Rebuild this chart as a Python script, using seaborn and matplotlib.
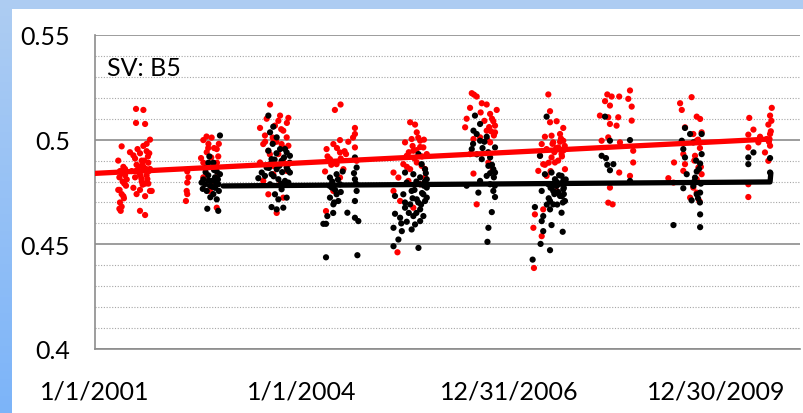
import numpy as np
import pandas as pd
import matplotlib
matplotlib.use("Agg")
import matplotlib.pyplot as plt
import seaborn as sns
from matplotlib.patches import Rectangle
from matplotlib.colors import LinearSegmentedColormap
from matplotlib.ticker import MultipleLocator

# ---------------- data (x = days since 1/1/2001) ----------------
red_days = [
    # 2001
    217, 256, 217, 265, 291, 273, 256, 141, 185, 203, 238, 273, 287,
    123, 150, 132, 159, 129, 146, 164, 123, 141, 153, 132, 141, 129, 136, 168, 159, 150,
    212, 247, 282, 220, 256, 291, 194, 234, 273, 212, 247, 282, 203, 238, 291, 220, 265,
    238, 265, 300, 252, 277,
    230, 250, 270, 215, 240, 260, 280, 225, 140, 155, 130, 245, 265, 285,
    # 2002
    488, 494, 488, 485, 488, 481,
    573, 617, 599, 644, 652, 573, 626, 652, 635, 608, 644, 573, 591, 561,
    600, 630, 615, 645, 580, 655, 590,
    # 2003
    926, 908, 979, 1023, 873, 952, 899, 996, 1014, 890, 943, 987, 1023, 917, 970, 996,
    873, 943, 1014, 890, 979, 917, 996, 961, 943, 1023,
    940, 960, 985, 1000, 1015, 925, 970, 900,
    # 2004
    1269, 1299, 1375, 1375, 1296, 1225, 1261, 1296, 1328, 1243, 1278, 1217, 1296, 1261,
    1222, 1375, 1384, 1314,
    1280, 1300, 1320, 1340, 1250, 1230, 1365,
    # 2005
    1667, 1693, 1702, 1640, 1675, 1720, 1737, 1684, 1649, 1755, 1631, 1702, 1579, 1605,
    1667, 1728, 1579, 1614, 1684, 1600, 1720, 1746, 1658,
    1680, 1700, 1720, 1740, 1690, 1730, 1660, 1710, 1650, 1745,
    # 2006
    1993, 2019, 2005, 2046, 2072, 1984, 2125, 2090, 1966, 2107, 2116, 1958, 2072, 2116,
    2002, 2037, 2090, 1984, 2081, 2002, 2019, 2104,
    2060, 2085, 2100, 2110, 2040, 2075, 2095,
    # 2007
    2398, 2407, 2407, 2442, 2477, 2460, 2380, 2415, 2363, 2424, 2477, 2389, 2451, 2354,
    2415, 2468, 2371, 2433, 2345, 2486, 2389, 2371, 2327, 2319, 2363, 2322, 2442,
    2420, 2440, 2460, 2480, 2470, 2430, 2450, 2485, 2400, 2410, 2380, 2465,
    # 2008
    2710, 2733, 2773, 2830, 2821, 2839, 2698, 2724, 2671, 2715, 2768, 2839, 2724, 2759,
    2680, 2715, 2777, 2847, 2847, 2773, 2830, 2724, 2715, 2738,
    # 2009
    3156, 3095, 3104, 3183, 3201, 3121, 3165, 3209, 3104, 3183, 3112, 3174, 3063, 3121,
    3112, 3192, 3209, 3033, 3060, 3183, 3165, 3148, 3197, 3183,
    3190, 3200, 3170, 3205,
    # 2010
    3461, 3580, 3571, 3483, 3562, 3456, 3518, 3571, 3456, 3571, 3544, 3562, 3456, 3456,
    3509, 3553, 3575, 3565, 3578,
]
red_vals = [
    # 2001
    0.5147, 0.5142, 0.508, 0.5075, 0.500, 0.498, 0.497, 0.4968, 0.494, 0.4925, 0.4935, 0.4945, 0.4935,
    0.490, 0.487, 0.485, 0.483, 0.482, 0.480, 0.478, 0.476, 0.474, 0.472, 0.470, 0.468, 0.467, 0.466, 0.481, 0.486, 0.473,
    0.491, 0.490, 0.489, 0.488, 0.487, 0.486, 0.485, 0.484, 0.483, 0.482, 0.480, 0.479, 0.477, 0.476, 0.4755, 0.474, 0.473,
    0.466, 0.464, 0.4755, 0.4785, 0.4812,
    0.4870, 0.4880, 0.4860, 0.4850, 0.4830, 0.4900, 0.4920, 0.4955, 0.4840, 0.4790, 0.4760, 0.4815, 0.4790, 0.4850,
    # 2002
    0.4848, 0.482, 0.4795, 0.4755, 0.474, 0.4707,
    0.4998, 0.501, 0.496, 0.4955, 0.492, 0.489, 0.4867, 0.4835, 0.4787, 0.4755, 0.4675, 0.482, 0.494, 0.4912,
    0.4980, 0.4960, 0.4915, 0.4890, 0.4865, 0.4980, 0.5015,
    # 2003
    0.5168, 0.510, 0.5115, 0.5104, 0.5056, 0.5067, 0.502, 0.5043, 0.5011, 0.4979, 0.4987, 0.4979, 0.4971, 0.4947, 0.4931, 0.4907,
    0.4891, 0.4875, 0.4851, 0.4803, 0.4787, 0.4739, 0.4723, 0.465, 0.4835, 0.4883,
    0.5010, 0.4990, 0.5050, 0.4960, 0.5080, 0.4930, 0.5090, 0.4990,
    # 2004
    0.5142, 0.5168, 0.5056, 0.5027, 0.4998, 0.4955, 0.4979, 0.4939, 0.4931, 0.4907, 0.4883, 0.4848, 0.4819, 0.4755,
    0.4659, 0.4963, 0.4899, 0.4859,
    0.4960, 0.4910, 0.4945, 0.4990, 0.4880, 0.4920, 0.5010,
    # 2005
    0.5083, 0.5072, 0.5035, 0.4987, 0.5003, 0.4995, 0.4963, 0.4947, 0.4923, 0.4931, 0.4883, 0.4891, 0.4843, 0.4819,
    0.4859, 0.4875, 0.4755, 0.4707, 0.4675, 0.4462, 0.4787, 0.4819, 0.4803,
    0.4970, 0.4950, 0.4965, 0.5000, 0.4910, 0.4920, 0.4940, 0.5010, 0.4870, 0.4860,
    # 2006
    0.5222, 0.5206, 0.5215, 0.5174, 0.5168, 0.5152, 0.5142, 0.5123, 0.510, 0.5088, 0.5067, 0.5059, 0.5043, 0.5035,
    0.5003, 0.5011, 0.4987, 0.4931, 0.4891, 0.4838, 0.4691, 0.4859,
    0.5090, 0.5060, 0.5100, 0.5020, 0.5130, 0.5000, 0.5040,
    # 2007
    0.5216, 0.5136, 0.5083, 0.5088, 0.5056, 0.5027, 0.5014, 0.5019, 0.4979, 0.4987, 0.4995, 0.4955, 0.4963, 0.4923,
    0.4915, 0.4931, 0.4883, 0.4891, 0.4851, 0.4859, 0.4827, 0.4667, 0.4643, 0.4579, 0.4539, 0.4387, 0.4755,
    0.4980, 0.4960, 0.4990, 0.4950, 0.4920, 0.4940, 0.4900, 0.4970, 0.4890, 0.4850, 0.4880, 0.5005,
    # 2008
    0.5216, 0.5206, 0.5206, 0.5235, 0.5195, 0.5158, 0.5184, 0.5163, 0.5115, 0.5107, 0.5107, 0.5091, 0.5075, 0.5067,
    0.4995, 0.5011, 0.4987, 0.4947, 0.4891, 0.4843, 0.4827, 0.4771, 0.4699, 0.4691,
    # 2009
    0.5203, 0.5174, 0.5142, 0.5110, 0.5099, 0.5059, 0.5027, 0.5035, 0.4987, 0.4995, 0.4931, 0.4923, 0.4891, 0.4883,
    0.4851, 0.4867, 0.4835, 0.4816, 0.4795, 0.4811, 0.4771, 0.4723, 0.4707, 0.4747,
    0.5000, 0.4960, 0.4900, 0.4870,
    # 2010
    0.5104, 0.5152, 0.5115, 0.5048, 0.5072, 0.5024, 0.5014, 0.5027, 0.4963, 0.4971, 0.4939, 0.4899, 0.4787, 0.4726,
    0.4987, 0.5003, 0.5040, 0.4990, 0.5090,
]

black_days = [
    # 2002
    661, 605, 626, 591, 644, 661, 564, 582, 608, 635, 652, 591, 626, 644, 594, 652, 573, 617, 635, 599,
    600, 620, 640, 585, 655, 610, 630, 570, 650, 600,
    # 2003
    917, 943, 926, 961, 917, 979, 1014, 1031, 934, 987, 908, 961, 1014, 864, 899, 934, 970, 1005, 1023,
    926, 987, 952, 1014, 970, 934, 961, 996, 882, 1031,
    930, 950, 975, 1000, 1020, 945, 990, 960, 1005, 920, 985, 940, 1030,
    # 2004
    1243, 1278, 1296, 1252, 1278, 1243, 1287, 1261, 1229, 1208, 1222, 1335, 1375, 1393, 1222, 1388,
    1375, 1384, 1375, 1384, 1375, 1310,
    1255, 1270, 1285, 1265, 1300, 1240, 1380, 1370, 1260,
    # 2005
    1711, 1728, 1746, 1640, 1684, 1755, 1649, 1720, 1755, 1675, 1737, 1631, 1587, 1702, 1746, 1667,
    1640, 1720, 1587, 1614, 1684, 1737, 1649, 1720, 1579, 1623, 1675, 1605, 1579, 1711, 1693, 1755,
    1700, 1720, 1740, 1690, 1730, 1750, 1710, 1680, 1745, 1725, 1660, 1700, 1620, 1640,
    # 2006
    2010, 2037, 2002, 2019, 2072, 2037, 2116, 1993, 2046, 2090, 2081, 2107, 2116, 2072, 2037, 2090,
    2028, 2107, 2116, 2099, 2081, 2076, 1966,
    2050, 2080, 2100, 2110, 2060, 2020, 2090, 2115, 2000,
    # 2007
    2389, 2354, 2380, 2415, 2468, 2477, 2398, 2442, 2363, 2424, 2477, 2460, 2486, 2407, 2424, 2327,
    2407, 2468, 2371, 2363, 2415, 2371, 2474, 2357, 2407, 2315, 2451, 2433,
    2420, 2440, 2460, 2480, 2450, 2470, 2430, 2490, 2410, 2455, 2480, 2400, 2445, 2475, 2390,
    # 2008
    2698, 2724, 2830, 2680, 2703, 2742, 2710, 2724, 2830,
    # 2009
    3121, 3148, 3209, 3104, 3165, 3112, 3209, 3121, 3201, 3130, 3183, 3174, 3112, 3165, 3201, 3183,
    3156, 3201, 3060, 3201,
    3180, 3195, 3170, 3205, 3190, 3200,
    # 2010
    3483, 3456, 3456, 3571, 3571,
]
black_vals = [
    # 2002
    0.502, 0.492, 0.489, 0.4867, 0.4848, 0.4835, 0.4795, 0.4787, 0.478, 0.477, 0.4787, 0.4755, 0.474, 0.4715,
    0.467, 0.466, 0.481, 0.4803, 0.482, 0.483,
    0.4805, 0.4775, 0.4795, 0.4845, 0.4755, 0.4725, 0.4855, 0.4765, 0.4810, 0.4890,
    # 2003
    0.5115, 0.5062, 0.5035, 0.5011, 0.4947, 0.4955, 0.4939, 0.4923, 0.4907, 0.4899, 0.4867, 0.4859, 0.4867, 0.4816,
    0.4827, 0.4835, 0.4811, 0.4803, 0.4795, 0.4787, 0.4763, 0.4739, 0.4723, 0.4715, 0.4678, 0.4667, 0.4675, 0.4843, 0.4843,
    0.4885, 0.4905, 0.4875, 0.4915, 0.4855, 0.4825, 0.4845, 0.4935, 0.4955, 0.4865, 0.4790, 0.4980, 0.4890,
    # 2004
    0.4819, 0.4835, 0.4787, 0.4771, 0.4739, 0.4723, 0.4707, 0.4691, 0.4635, 0.4598, 0.4598, 0.4651, 0.4627, 0.4611,
    0.4438, 0.4448, 0.4915, 0.4867, 0.4811, 0.4755, 0.4707, 0.4848,
    0.4800, 0.4760, 0.4810, 0.4700, 0.4750, 0.4780, 0.4790, 0.4840, 0.4650,
    # 2005
    0.4931, 0.4883, 0.4859, 0.4843, 0.4835, 0.4811, 0.4795, 0.4787, 0.4771, 0.4755, 0.4739, 0.4739, 0.4731, 0.4715,
    0.4707, 0.4691, 0.4675, 0.4667, 0.4646, 0.4627, 0.4635, 0.4635, 0.4608, 0.4611, 0.4579, 0.4563, 0.4571, 0.4523,
    0.4491, 0.4483, 0.4595, 0.4723,
    0.4800, 0.4820, 0.4780, 0.4760, 0.4745, 0.4840, 0.4700, 0.4720, 0.4800, 0.4690, 0.4650, 0.4650, 0.4600, 0.4700,
    # 2006
    0.5115, 0.5075, 0.5043, 0.5027, 0.5014, 0.4995, 0.4963, 0.4955, 0.4907, 0.4915, 0.4875, 0.4859, 0.4843, 0.4827,
    0.4803, 0.4787, 0.4747, 0.4755, 0.4726, 0.4654, 0.4579, 0.4512, 0.478,
    0.4960, 0.4940, 0.4880, 0.4820, 0.4990, 0.4930, 0.4840, 0.4780, 0.4980,
    # 2007
    0.511, 0.4923, 0.4835, 0.4843, 0.4827, 0.4803, 0.4787, 0.4779, 0.4755, 0.4755, 0.4763, 0.4731, 0.4707, 0.4707,
    0.4691, 0.4678, 0.4667, 0.4651, 0.4635, 0.4611, 0.4592, 0.4563, 0.456, 0.4502, 0.4472, 0.4427, 0.4787, 0.4811,
    0.4780, 0.4800, 0.4790, 0.4770, 0.4750, 0.4730, 0.4740, 0.4810, 0.4770, 0.4830, 0.4740, 0.4720, 0.4690, 0.4700, 0.4690,
    # 2008
    0.5110, 0.4995, 0.4998, 0.4923, 0.4912, 0.4883, 0.4880, 0.4854, 0.4803,
    # 2009
    0.5056, 0.5027, 0.5027, 0.4995, 0.4987, 0.4955, 0.4931, 0.4915, 0.4886, 0.4835, 0.4848, 0.4819, 0.4768, 0.4779,
    0.4747, 0.4739, 0.4710, 0.4643, 0.4592, 0.4582,
    0.4900, 0.4860, 0.4800, 0.4790, 0.4720, 0.4700,
    # 2010
    0.4939, 0.4915, 0.4883, 0.4912, 0.4843,
]

red_trend_days = [0, 3571]
red_trend_vals = [0.4839, 0.5003]
black_trend_days = [677, 3571, 3575]
black_trend_vals = [0.4779, 0.4798, 0.4840]

y_ticks = [0.4, 0.45, 0.5, 0.55]
y_tick_labels = ["0.4", "0.45", "0.5", "0.55"]
x_ticks = [0, 1095, 2190, 3285]
x_tick_labels = ["1/1/2001", "1/1/2004", "12/31/2006", "12/30/2009"]
title_text = "SV: B5"

# ---------------- figure ----------------
sns.set_theme(style="white")
plt.rcParams['font.family'] = ['Lato', 'DejaVu Sans']

W, H = 804, 414
fig = plt.figure(figsize=(W / 100, H / 100), dpi=100)

# blue slide frame
bg = fig.add_axes([0, 0, 1, 1], zorder=-10)
grad = np.linspace(0, 1, 256).reshape(-1, 1)
cmap = LinearSegmentedColormap.from_list('frame', ['#aecdf2', '#7cb4f9'])
bg.imshow(grad, aspect='auto', cmap=cmap, extent=[0, 1, 0, 1], origin='upper')
bg.add_patch(Rectangle((12 / W, 0), 1, 1 - 10 / H, color='white', lw=0))
bg.set_xlim(0, 1)
bg.set_ylim(0, 1)
bg.axis('off')

ax = fig.add_axes([95 / W, 1 - 350 / H, (800 - 95) / W, (350 - 36) / H])
ax.set_facecolor('none')

df = pd.DataFrame({
    'day': red_days + black_days,
    'val': red_vals + black_vals,
    'series': ['red'] * len(red_days) + ['black'] * len(black_days),
})
sns.scatterplot(data=df, x='day', y='val', hue='series',
                palette={'red': '#ff0000', 'black': '#000000'},
                s=20, linewidth=0, legend=False, ax=ax, zorder=3)

tr = pd.DataFrame({'day': red_trend_days, 'val': red_trend_vals})
tb = pd.DataFrame({'day': black_trend_days, 'val': black_trend_vals})
sns.lineplot(data=tr, x='day', y='val', color='#ff0000', lw=3.8, sort=False, ax=ax, zorder=4)
sns.lineplot(data=tb, x='day', y='val', color='#000000', lw=3.8, sort=False, ax=ax, zorder=4)

ax.set_xlim(0, (800 - 95) * 1095 / 207)
ax.set_ylim(0.4, 0.55)
ax.set_xlabel('')
ax.set_ylabel('')

ax.set_yticks(y_ticks)
ax.set_yticklabels(y_tick_labels)
ax.yaxis.set_minor_locator(MultipleLocator(0.01))
ax.set_xticks(x_ticks)
ax.set_xticklabels(x_tick_labels)

ax.grid(False)
ax.yaxis.grid(True, which='major', color='#8c8c8c', lw=1.2, zorder=0)
ax.yaxis.grid(True, which='minor', color='#a6a6a6', lw=0.8, ls=(0, (1, 1.5)), zorder=0)
ax.set_axisbelow(True)

for side in ['top', 'right']:
    ax.spines[side].set_visible(False)
for side in ['left', 'bottom']:
    ax.spines[side].set_color('#8c8c8c')
    ax.spines[side].set_linewidth(1.2)

ax.tick_params(axis='both', which='major', direction='out', length=6, width=1.2,
               color='#8c8c8c', labelsize=18, labelcolor='black')
ax.tick_params(axis='y', which='major', pad=12)
ax.tick_params(axis='x', which='major', pad=16)
ax.tick_params(axis='y', which='minor', length=0)

ax.text(0.017, 0.898, title_text, transform=ax.transAxes, fontsize=18,
        ha='left', va='center', color='black')

fig.savefig('out.png', dpi=100)
